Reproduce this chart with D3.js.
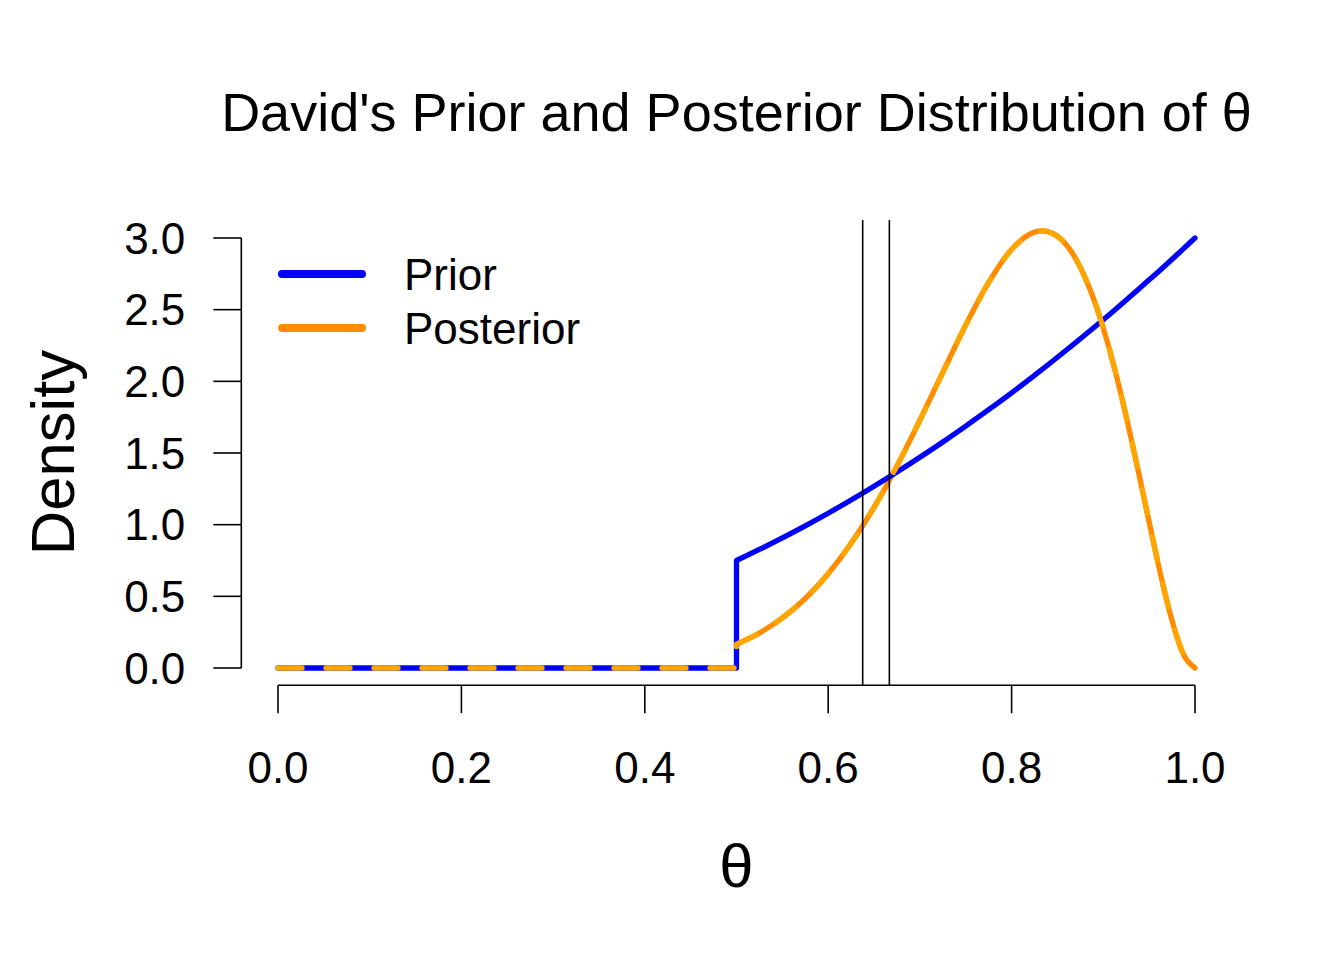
<!DOCTYPE html>
<html>
<head>
<meta charset="utf-8">
<script src="https://cdn.jsdelivr.net/npm/d3@7"></script>
<style>
  html, body { margin: 0; padding: 0; background: #fff; }
  svg text { font-family: "Liberation Sans", Arial, Helvetica, sans-serif; fill: #000; }
</style>
</head>
<body>
<svg id="chart" width="1344" height="960"></svg>
<script>
// ---- data ----
const titleText = "David's Prior and Posterior Distribution of θ";
const xLabel = "θ";
const yLabel = "Density";
const xTicks = [0.0, 0.2, 0.4, 0.6, 0.8, 1.0];
const yTicks = [0.0, 0.5, 1.0, 1.5, 2.0, 2.5, 3.0];

// grid of theta where the curves are read (0.5 .. 1.0)
const thetaGrid = [0.5, 0.525, 0.55, 0.575, 0.6, 0.625, 0.65, 0.675, 0.7, 0.725, 0.75,
                   0.775, 0.8, 0.825, 0.8333, 0.85, 0.875, 0.8875, 0.9, 0.9125, 0.925, 0.9375,
                   0.95, 0.9625, 0.975, 0.9875, 1.0];
const priorValues = [0.75, 0.827, 0.908, 0.992, 1.08, 1.172, 1.268, 1.367, 1.47, 1.577, 1.688,
                     1.802, 1.92, 2.042, 2.083, 2.168, 2.297, 2.363, 2.43, 2.498, 2.567, 2.637,
                     2.708, 2.779, 2.852, 2.926, 3.0];
const posteriorValues = [0.166, 0.244, 0.349, 0.485, 0.658, 0.870, 1.121, 1.410, 1.729, 2.063, 2.393,
                         2.690, 2.920, 3.041, 3.05, 3.012, 2.795, 2.609, 2.371, 2.084, 1.754, 1.393,
                         1.018, 0.652, 0.330, 0.094, 0.0];
// zero-density part (theta below 0.5)
const zeroTheta = [0.0, 0.5];
const zeroValue = [0.0, 0.0];
// vertical reference lines
const vLines = [0.6376, 0.6667];
const legendLabels = ["Prior", "Posterior"];
const colors = { prior: "#0000FF", posterior: "#FF8C00", posteriorDash: "#FFA500" };

// ---- layout ----
const svg = d3.select("#chart");
const x = d3.scaleLinear().domain([0, 1]).range([278, 1195]);
const y = d3.scaleLinear().domain([0, 3]).range([668, 238]);
const plotTop = y(3.126), plotBottom = y(-0.12);
const axisY = plotBottom;       // x axis line position (R style offset axis)
const axisX = x(-0.04);         // y axis line position

const baseFont = 44;

// title
svg.append("text")
  .attr("x", (x(-0.04) + x(1.04)) / 2).attr("y", 131)
  .attr("text-anchor", "middle")
  .style("font-size", "54px")
  .text(titleText);

// x axis
const gx = svg.append("g").attr("transform", `translate(0,${axisY})`);
gx.append("line").attr("x1", x(0)).attr("x2", x(1)).attr("y1", 0).attr("y2", 0)
  .attr("stroke", "#000").attr("stroke-width", 1.6);
gx.selectAll("line.tick").data(xTicks).join("line").attr("class", "tick")
  .attr("x1", d => x(d)).attr("x2", d => x(d)).attr("y1", 0).attr("y2", 28)
  .attr("stroke", "#000").attr("stroke-width", 1.6);
gx.selectAll("text").data(xTicks).join("text")
  .attr("x", d => x(d)).attr("y", 98)
  .attr("text-anchor", "middle")
  .style("font-size", baseFont + "px")
  .text(d => d3.format(".1f")(d));

// y axis
const gy = svg.append("g").attr("transform", `translate(${axisX},0)`);
gy.append("line").attr("x1", 0).attr("x2", 0).attr("y1", y(0)).attr("y2", y(3))
  .attr("stroke", "#000").attr("stroke-width", 1.6);
gy.selectAll("line.tick").data(yTicks).join("line").attr("class", "tick")
  .attr("x1", 0).attr("x2", -28).attr("y1", d => y(d)).attr("y2", d => y(d))
  .attr("stroke", "#000").attr("stroke-width", 1.6);
gy.selectAll("text").data(yTicks).join("text")
  .attr("x", -56).attr("y", d => y(d) + 15.5)
  .attr("text-anchor", "end")
  .style("font-size", baseFont + "px")
  .text(d => d3.format(".1f")(d));

// axis labels
svg.append("text")
  .attr("x", (x(-0.04) + x(1.04)) / 2).attr("y", 887)
  .attr("text-anchor", "middle")
  .style("font-size", (baseFont * 1.4) + "px")
  .text(xLabel);
svg.append("text")
  .attr("transform", `translate(74,${(plotTop + plotBottom) / 2}) rotate(-90)`)
  .attr("text-anchor", "middle")
  .style("font-size", (baseFont * 1.4) + "px")
  .text(yLabel);

// ---- curves ----
const lineLin = d3.line().x(d => x(d[0])).y(d => y(d[1]));
const lineSmooth = d3.line().x(d => x(d[0])).y(d => y(d[1])).curve(d3.curveMonotoneX);

const zeroPts = zeroTheta.map((t, i) => [t, zeroValue[i]]);
const priorPts = thetaGrid.map((t, i) => [t, priorValues[i]]);
const postPts = thetaGrid.map((t, i) => [t, posteriorValues[i]]);

const priorD = lineLin(zeroPts) + lineSmooth(priorPts).replace(/^M/, "L");
const postD = lineLin(zeroPts) + lineSmooth(postPts).replace(/^M/, "L");
const postCurveD = lineSmooth(postPts);

const lw = 5.3;
// posterior solid (dark orange) underneath
svg.append("path").attr("d", postCurveD)
  .attr("fill", "none").attr("stroke", colors.posterior).attr("stroke-width", lw)
  .attr("stroke-linecap", "round").attr("stroke-linejoin", "round");
// prior
svg.append("path").attr("d", priorD)
  .attr("fill", "none").attr("stroke", colors.prior).attr("stroke-width", lw)
  .attr("stroke-linecap", "round").attr("stroke-linejoin", "round");
// posterior dashed (orange) on top
svg.append("path").attr("d", postD)
  .attr("fill", "none").attr("stroke", colors.posteriorDash).attr("stroke-width", lw)
  .attr("stroke-linecap", "round").attr("stroke-linejoin", "round")
  .attr("stroke-dasharray", "24,24");

// vertical lines
svg.selectAll("line.vline").data(vLines).join("line").attr("class", "vline")
  .attr("x1", d => x(d)).attr("x2", d => x(d))
  .attr("y1", plotTop).attr("y2", plotBottom)
  .attr("stroke", "#000").attr("stroke-width", 1.6);

// legend
const legendColors = [colors.prior, colors.posterior];
const lg = svg.append("g");
legendLabels.forEach((lab, i) => {
  const ly = 274 + i * 54;
  lg.append("line").attr("x1", 282).attr("x2", 362).attr("y1", ly).attr("y2", ly)
    .attr("stroke", legendColors[i]).attr("stroke-width", 8).attr("stroke-linecap", "round");
  lg.append("text").attr("x", 404).attr("y", ly + 16)
    .style("font-size", baseFont + "px").text(lab);
});
</script>
</body>
</html>
